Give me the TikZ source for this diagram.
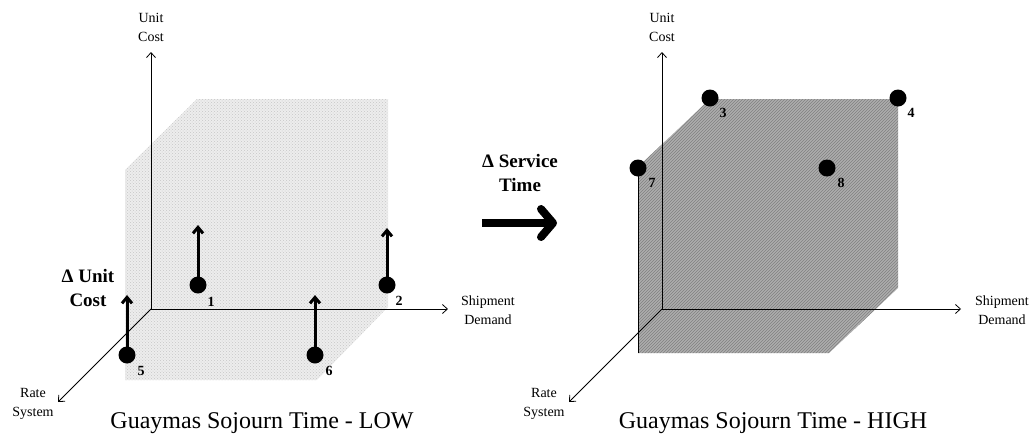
\documentclass[tikz,border=0pt]{standalone}
\usepackage{fontspec}
\setmainfont{Liberation Serif}
\usetikzlibrary{arrows.meta,patterns}

\begin{document}
\begin{tikzpicture}[x=1pt,y=-1pt,
    axis/.style={line width=0.8pt,-{Straight Barb[length=5pt,width=9pt]}},
    push/.style={line width=3pt,-{Straight Barb[length=6pt,width=10pt]}},
    dot/.style={circle,fill=black,inner sep=0pt,minimum size=17pt},
    num/.style={font=\fontsize{14}{14}\selectfont\bfseries,inner sep=0pt},
    axlabel/.style={font=\fontsize{14}{19}\selectfont,align=center,inner sep=0pt},
    caption/.style={font=\fontsize{24}{26}\selectfont,inner sep=0pt},
    delta/.style={font=\fontsize{19}{24}\selectfont\bfseries,align=center,inner sep=0pt}]
    \useasboundingbox (0,0) rectangle (1034,440);

    % left cube (low sojourn time)
    \fill[black!7] (197,99) -- (388,99) -- (388,307) -- (317,380) -- (125,380) -- (125,170) -- cycle;
    \fill[pattern=crosshatch dots, pattern color=black!22] (197,99) -- (388,99) -- (388,307) -- (317,380) -- (125,380) -- (125,170) -- cycle;

    % right cube (high sojourn time)
    \fill[black!32] (710,99) -- (898,99) -- (898,288) -- (829,353) -- (638,353) -- (638,167) -- cycle;
    \fill[pattern=north east lines, pattern color=black!50] (710,99) -- (898,99) -- (898,288) -- (829,353) -- (638,353) -- (638,167) -- cycle;
    \draw[line width=0.6pt] (638,175) -- (638,353);

    % left axes
    \coordinate (o1) at (151,309);
    \coordinate (uc1) at (151,52);
    \coordinate (sd1) at (448,309);
    \coordinate (rs1) at (58,402);
    \draw[axis] (o1) -- (uc1);
    \draw[axis] (o1) -- (sd1);
    \draw[axis] (o1) -- (rs1);
    \node[axlabel] (uclab1) at (151,27) {Unit\\Cost};
    \node[axlabel] (sdlab1) at (488,310) {Shipment\\Demand};
    \node[axlabel] (rslab1) at (33,404) {Rate\\System};

    % right axes
    \coordinate (o2) at (662,309);
    \coordinate (uc2) at (662,52);
    \coordinate (sd2) at (961,309);
    \coordinate (rs2) at (569,402);
    \draw[axis] (o2) -- (uc2);
    \draw[axis] (o2) -- (sd2);
    \draw[axis] (o2) -- (rs2);
    \node[axlabel] (uclab2) at (662,27) {Unit\\Cost};
    \node[axlabel] (sdlab2) at (1002,310) {Shipment\\Demand};
    \node[axlabel] (rslab2) at (544,404) {Rate\\System};

    % left points with unit cost shifts
    \node[dot] (p1) at (198,285) {};
    \node[dot] (p2) at (387,285) {};
    \node[dot] (p5) at (127,355) {};
    \node[dot] (p6) at (315,355) {};
    \coordinate (t1) at (198,225);
    \coordinate (t2) at (387,228);
    \coordinate (t5) at (127,295);
    \coordinate (t6) at (315,295);
    \draw[push] (p1.center) -- (t1);
    \draw[push] (p2.center) -- (t2);
    \draw[push] (p5.center) -- (t5);
    \draw[push] (p6.center) -- (t6);
    \node[num] (n1) at (211,302) {1};
    \node[num] (n2) at (399,301) {2};
    \node[num] (n5) at (141,371) {5};
    \node[num] (n6) at (329,371) {6};
    \node[delta] (duc) at (88,288) {Δ Unit\\Cost};

    % right points
    \node[dot] (p3) at (710,98) {};
    \node[dot] (p4) at (898,98) {};
    \node[dot] (p7) at (638,168) {};
    \node[dot] (p8) at (827,168) {};
    \node[num] (n3) at (723,113) {3};
    \node[num] (n4) at (911,113) {4};
    \node[num] (n7) at (652,183) {7};
    \node[num] (n8) at (841,183) {8};

    % service time change
    \node[delta] (dst) at (520,173) {Δ Service\\Time};
    \coordinate (bs) at (482,223);
    \coordinate (be) at (557,223);
    \draw[line width=8pt,-{Straight Barb[round,length=12pt,width=28pt]}] (bs) -- (be);

    \node[caption] (cap1) at (262,423) {Guaymas Sojourn Time - LOW};
    \node[caption] (cap2) at (773,423) {Guaymas Sojourn Time - HIGH};
\end{tikzpicture}
\end{document}
